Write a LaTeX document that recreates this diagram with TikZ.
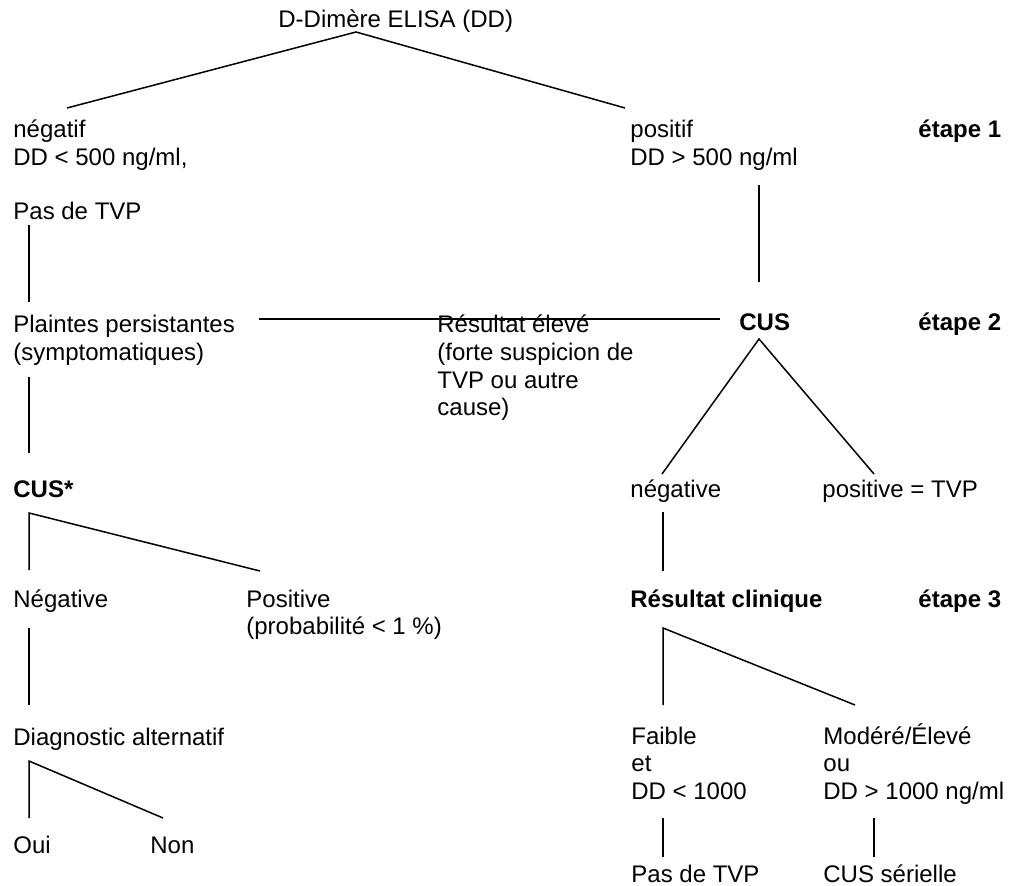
\documentclass[tikz,border=0pt]{standalone}
\usepackage{fontspec}
\setmainfont{Liberation Sans}
\newcommand\mlines[1]{\begin{tabular}[t]{@{}l@{}}#1\end{tabular}}
\begin{document}
\begin{tikzpicture}[x=0.5pt,y=-0.5pt,
  txt/.style={anchor=base west, inner sep=0pt, font=\fontsize{12}{13.8}\selectfont},
  bftxt/.style={txt, font=\fontsize{12}{13.8}\selectfont\bfseries},
  conn/.style={line width=0.75pt, line cap=butt}]
\useasboundingbox (0,0) rectangle (1010,886);
% nodes
\node[txt] (dd) at (278,28) {D-Dimère ELISA (DD)};
\node[txt] (neg) at (13,138) {\mlines{négatif\\DD < 500 ng/ml,}};
\node[txt] (pasL) at (13,220) {Pas de TVP};
\node[txt] (pos) at (630,138) {\mlines{positif\\DD > 500 ng/ml}};
\node[bftxt] (e1) at (918,138) {étape 1};
\node[txt] (plaintes) at (13,333) {\mlines{Plaintes persistantes\\(symptomatiques)}};
\node[txt] (relev) at (437,333) {\mlines{Résultat élevé\\(forte suspicion de\\TVP ou autre\\cause)}};
\node[bftxt] (cus) at (739,331) {CUS};
\node[bftxt] (e2) at (918,331) {étape 2};
\node[bftxt] (cusstar) at (13,497) {CUS*};
\node[txt] (negcus) at (630,497) {négative};
\node[txt] (poscus) at (822,497) {positive = TVP};
\node[txt] (negL) at (13,607) {Négative};
\node[txt] (posL) at (246,607) {\mlines{Positive\\(probabilité < 1 \%)}};
\node[bftxt] (rc) at (630,607) {Résultat clinique};
\node[bftxt] (e3) at (918,607) {étape 3};
\node[txt] (diag) at (13,745) {Diagnostic alternatif};
\node[txt] (faible) at (631,744) {\mlines{Faible\\et\\DD < 1000}};
\node[txt] (mod) at (823,744) {\mlines{Modéré/Élevé\\ou\\DD > 1000 ng/ml}};
\node[txt] (oui) at (13,853) {Oui};
\node[txt] (non) at (150,853) {Non};
\node[txt] (pasR) at (631,882) {Pas de TVP};
\node[txt] (cusser) at (823,882) {CUS sérielle};
% connector end points
\coordinate (ddA) at (356,32);
\coordinate (negT) at (67,108);
\coordinate (posT) at (625,108);
\coordinate (pasLb) at (29,225);
\coordinate (plT) at (29,302);
\coordinate (posB) at (759,185);
\coordinate (cusT) at (759,282);
\coordinate (plR) at (259,319);
\coordinate (cusL) at (720,319);
\coordinate (plB) at (29,377);
\coordinate (cssT) at (29,453);
\coordinate (cusA) at (759,339);
\coordinate (ncT) at (662,474);
\coordinate (pcT) at (874,474);
\coordinate (cssA) at (29,513);
\coordinate (nLT) at (29,570);
\coordinate (pLT) at (260,571);
\coordinate (ncB) at (663,512);
\coordinate (rcT) at (663,571);
\coordinate (nLB) at (29,628);
\coordinate (diagT) at (29,705);
\coordinate (rcA) at (663,628);
\coordinate (fT) at (663,705);
\coordinate (mT) at (855,705);
\coordinate (diagA) at (29,761);
\coordinate (ouiT) at (29,818);
\coordinate (nonT) at (163,818);
\coordinate (fB) at (663,818);
\coordinate (pRT) at (663,857);
\coordinate (mB) at (874,818);
\coordinate (csT) at (874,857);
% connectors
\draw[conn] (negT) -- (ddA) -- (posT);
\draw[conn] (pasLb) -- (plT);
\draw[conn] (posB) -- (cusT);
\draw[conn] (plR) -- (cusL);
\draw[conn] (plB) -- (cssT);
\draw[conn] (ncT) -- (cusA) -- (pcT);
\draw[conn] (nLT) -- (cssA) -- (pLT);
\draw[conn] (ncB) -- (rcT);
\draw[conn] (nLB) -- (diagT);
\draw[conn] (fT) -- (rcA) -- (mT);
\draw[conn] (ouiT) -- (diagA) -- (nonT);
\draw[conn] (fB) -- (pRT);
\draw[conn] (mB) -- (csT);
\end{tikzpicture}
\end{document}
